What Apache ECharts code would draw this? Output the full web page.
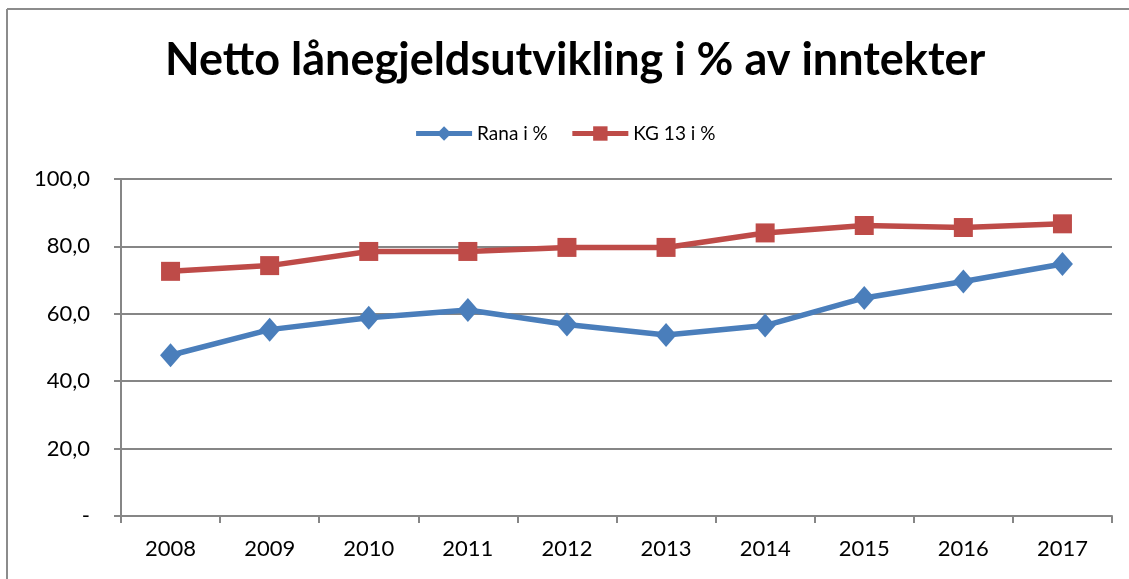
<!DOCTYPE html>
<html><head><meta charset="utf-8">
<script src="https://cdn.jsdelivr.net/npm/echarts@6/dist/echarts.min.js"></script>
<style>html,body{margin:0;padding:0;background:#fff}#c{width:1129px;height:579px}</style>
</head><body><div id="c"></div>
<script>
var categories = ['2008','2009','2010','2011','2012','2013','2014','2015','2016','2017'];
var rana = [47.7, 55.3, 58.8, 61.1, 56.8, 53.7, 56.5, 64.7, 69.6, 74.8];
var kg13 = [72.6, 74.3, 78.5, 78.5, 79.7, 79.7, 84.0, 86.2, 85.6, 86.7];
var seriesNames = ['Rana i %', 'KG 13 i %'];
var titleText = 'Netto lånegjeldsutvikling i % av inntekter';

var chart = echarts.init(document.getElementById('c'), null, {renderer:'canvas'});
var font = 'Lato, "Open Sans", sans-serif';
chart.setOption({
  animation: false,
  backgroundColor: '#fff',
  title: {
    text: titleText, left: 160, top: 33,
    textStyle: {fontFamily: font, fontWeight: 'bold', fontSize: 45, color: '#000'}
  },
  legend: {
    data: seriesNames, top: 119, left: 'center',
    itemWidth: 56, itemHeight: 18, itemGap: 22,
    lineStyle: {width: 5},
    textStyle: {fontFamily: font, fontSize: 19, color: '#000'}
  },
  graphic: [
    {type:'line', shape:{x1:7,y1:9,x2:1129,y2:9}, style:{stroke:'#8c8c8c', lineWidth:2}},
    {type:'line', shape:{x1:7,y1:9,x2:7,y2:579}, style:{stroke:'#8c8c8c', lineWidth:2}}
  ],
  grid: {left: 121, right: 17, top: 179, bottom: 63},
  xAxis: {
    type: 'category', data: categories, boundaryGap: true,
    axisLine: {lineStyle: {color: '#868686', width: 2}},
    axisTick: {show: true, length: 7, lineStyle: {color: '#868686', width: 2}},
    axisLabel: {fontFamily: font, fontSize: 22, color: '#000', margin: 22}
  },
  yAxis: {
    type: 'value', min: 0, max: 100, interval: 20,
    axisLine: {show: true, lineStyle: {color: '#868686', width: 2}},
    axisTick: {show: true, length: 7, lineStyle: {color: '#868686', width: 2}},
    splitLine: {lineStyle: {color: '#868686', width: 2}},
    axisLabel: {fontFamily: font, fontSize: 22, color: '#000', margin: 31,
      formatter: function(v){ return v === 0 ? '-' : v.toFixed(1).replace('.', ','); }}
  },
  series: [
    {name: seriesNames[0], type: 'line', data: rana, color: '#4A7EBB',
     symbol: 'diamond', symbolSize: [21, 24], lineStyle: {width: 5.5},
     itemStyle: {color: '#4A7EBB'}, emphasis: {disabled: true}},
    {name: seriesNames[1], type: 'line', data: kg13, color: '#BE4B48',
     symbol: 'rect', symbolSize: 19, lineStyle: {width: 5.5},
     itemStyle: {color: '#BE4B48'}, emphasis: {disabled: true}}
  ]
});
</script></body></html>
